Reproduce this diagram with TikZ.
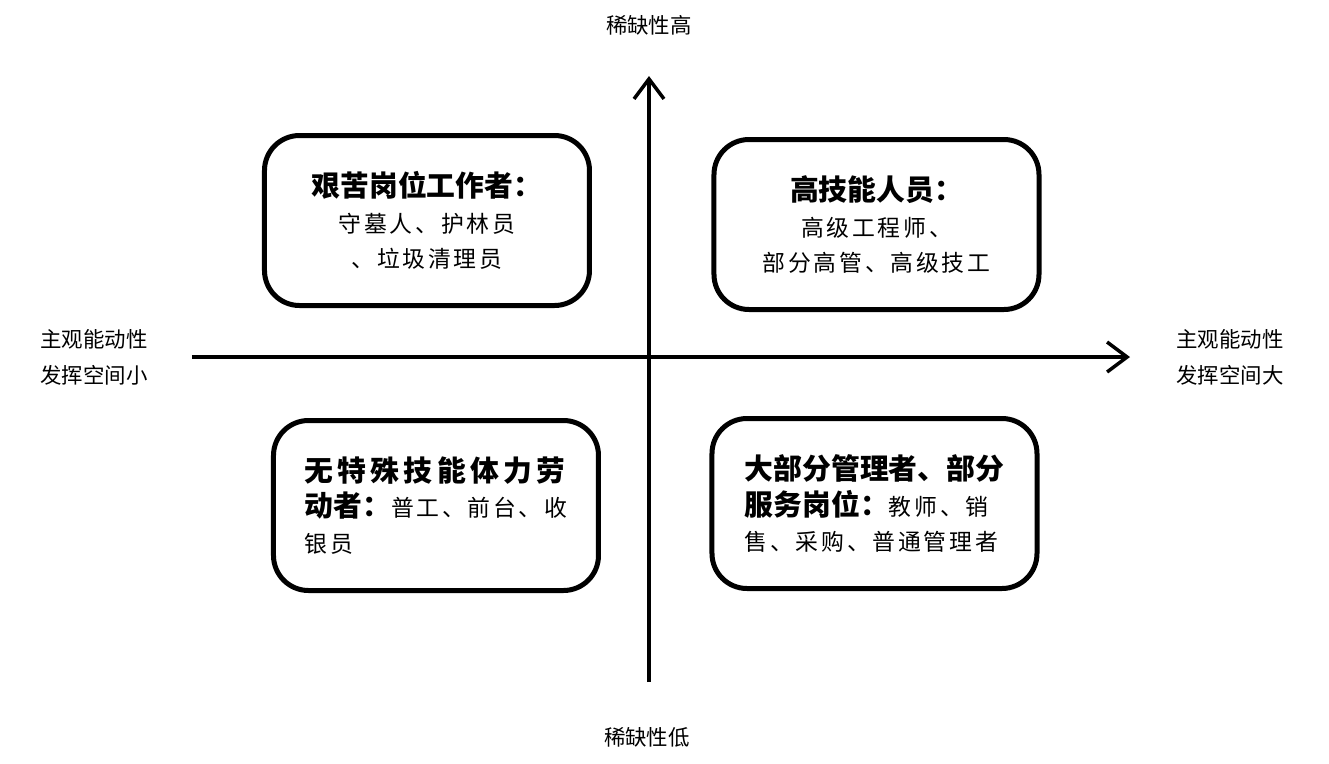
\documentclass[tikz,border=0pt]{standalone}
\usepackage{fontspec}
\setmainfont{Noto Sans CJK SC}
\newfontfamily\bodyfont{Noto Sans CJK SC}[LetterSpace=12]
\newfontfamily\wideheadfont{Noto Sans CJK SC}[LetterSpace=15]
\usetikzlibrary{arrows.meta,positioning}

\newcommand\headsize{\fontsize{16.4}{20.4}\selectfont\bfseries}
\newcommand\bodysize{\fontsize{13}{20.4}\selectfont\bodyfont}
\newcommand\axsize{\fontsize{12.2}{20.4}\selectfont}

\begin{document}
\begin{tikzpicture}[>={Straight Barb[length=4mm,width=6mm]},
                    axis/.style={->,line width=0.7mm},
                    quad/.style={draw,line width=1mm,rounded corners=7mm,
                                 minimum width=6.5cm,minimum height=3.4cm,
                                 inner sep=0pt,
                                 font=\fontsize{13}{20.4}\selectfont},
                    axlabel/.style={align=center,font=\axsize}]

  \useasboundingbox (-12.98,-8.12) rectangle (13.6,7.14);

  \coordinate (W) at (-9.14,0);
  \coordinate (E) at (9.62,0);
  \coordinate (S) at (0,-6.5);
  \coordinate (N) at (0,5.62);

  \path[axis] (W) edge (E)
              (S) edge (N);

  \node[axlabel] (high)  at (0,6.64)     {稀缺性高};
  \node[axlabel] (low)   at (-0.04,-7.6) {稀缺性低};
  \node[axlabel] (small) at (-11.1,0)    {主观能动性\\发挥空间小};
  \node[axlabel] (large) at (11.62,0)    {主观能动性\\发挥空间大};

  \node[quad,align=center] (hard) at (-4.44,2.73)
    {{\headsize 艰苦岗位工作者：}\\{\bodysize 守墓人、护林员}\\{\bodysize 、垃圾清理员}};
  \node[quad,align=center] (skill) at (4.55,2.65)
    {{\headsize 高技能人员：}\\{\bodysize 高级工程师、}\\{\bodysize 部分高管、高级技工}};
  \node[quad,align=left] (labour) at (-4.26,-2.97)
    {{\headsize\wideheadfont 无特殊技能体力劳}\\
     {\headsize 动者：}{\bodysize 普工、前台、收}\\{\bodysize 银员}};
  \node[quad,align=left] (manage) at (4.51,-2.93)
    {{\headsize 大部分管理者、部分}\\
     {\headsize 服务岗位：}{\bodysize 教师、销}\\{\bodysize 售、采购、普通管理者}};
\end{tikzpicture}
\end{document}
